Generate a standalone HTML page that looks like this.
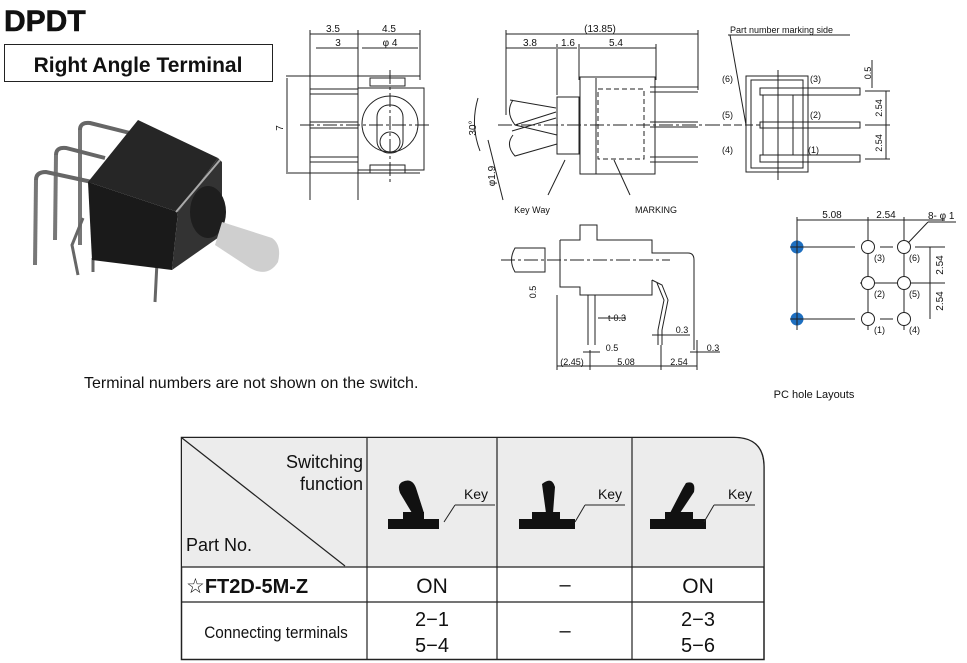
<!DOCTYPE html>
<html><head><meta charset="utf-8"><style>
html,body{margin:0;padding:0;background:#fff}
svg{display:block}
text{font-family:"Liberation Sans",sans-serif;fill:#111}
</style></head><body>
<svg width="967" height="663" viewBox="0 0 967 663" xmlns="http://www.w3.org/2000/svg">
<text x="4" y="31" font-size="30" font-weight="bold" stroke="#111" stroke-width="0.6">DPDT</text>
<rect x="4.5" y="44.5" width="268" height="37" fill="#fff" stroke="#222"/>
<text x="138" y="72" font-size="21" font-weight="bold" text-anchor="middle">Right Angle Terminal</text>

<!-- photo -->
<g>
<path d="M80 130 Q80 122 90 123 L130 133" stroke="#666" stroke-width="4" fill="none"/>
<path d="M80 130 L80 245" stroke="#777" stroke-width="4"/>
<path d="M56 155 Q56 147 66 148 L105 158" stroke="#666" stroke-width="4" fill="none"/>
<path d="M56 155 L55 240" stroke="#777" stroke-width="4"/>
<path d="M36 180 Q36 172 46 172 L92 182" stroke="#666" stroke-width="4" fill="none"/>
<path d="M36 180 L35 265" stroke="#777" stroke-width="4"/>
<path d="M83 218 L72 245 L78 275" stroke="#666" stroke-width="3" fill="none"/>
<path d="M93 258 L93 272 M157 262 L155 302" stroke="#666" stroke-width="3"/>
<polygon points="88,182 138,120 218,158 178,212" fill="#262626"/>
<polygon points="88,182 178,212 172,270 92,260" fill="#1a1a1a"/>
<polygon points="178,212 218,158 222,162 222,235 172,270" fill="#333"/>
<path d="M176 212 L220 160" stroke="#aaa" stroke-width="2"/>
<ellipse cx="208" cy="212" rx="18" ry="26" fill="#1e1e1e"/>
<path d="M222 222 L272 238 Q282 245 278 262 Q268 278 250 268 L215 245 Z" fill="#cfcfcf"/>
</g>
<text x="84" y="388" font-size="16">Terminal numbers are not shown on the switch.</text>

<!-- front view -->
<g stroke="#222" stroke-width="1" fill="none">
<path d="M310 30 L310 200 M358 30 L358 200 M420 30 L420 80"/>
<path d="M310 34 L358 34 M358 34 L420 34 M316 48 L358 48 M362 48 L418 48"/>
<path d="M286 76 L420 76 M286 173 L420 173 M287 78 L287 172"/>
<rect x="358" y="88" width="66" height="82"/>
<circle cx="390" cy="124" r="28"/>
<rect x="377" y="105" width="26" height="48" rx="12"/>
<circle cx="390" cy="142" r="10"/>
<path d="M310 89 L358 89 M310 94 L358 94 M310 122 L358 122 M310 128 L358 128 M310 157 L358 157 M310 162 L358 162"/>
<path d="M370 78 L405 78 L405 86 L370 86 Z M370 165 L405 165 L405 173 L370 173Z"/>
<path d="M390 70 L390 182 M300 125 L430 125" stroke-dasharray="14 3 3 3"/>
</g>
<text x="333" y="32" font-size="10" text-anchor="middle">3.5</text>
<text x="389" y="32" font-size="10" text-anchor="middle">4.5</text>
<text x="338" y="46" font-size="10" text-anchor="middle">3</text>
<text x="390" y="46" font-size="10" text-anchor="middle">φ 4</text>
<text x="283" y="128" font-size="10" transform="rotate(-90 283 128)" text-anchor="middle">7</text>

<!-- side view -->
<g stroke="#222" stroke-width="1" fill="none">
<path d="M506 34 L698 34 M506 48 L556 48 M558 48 L577 48 M580 48 L656 48"/>
<path d="M506 30 L506 115 M557 44 L557 95 M579 44 L579 80 M656 44 L656 80 M698 30 L698 90"/>
<rect x="557" y="97" width="22" height="57"/>
<rect x="580" y="77" width="75" height="97"/>
<path d="M596 78 L596 174"/>
<rect x="598" y="89" width="46" height="70" stroke-dasharray="5 3"/>
<path d="M650 87 L698 87 M650 92 L698 92 M650 122 L698 122 M650 127 L698 127 M650 157 L698 157 M650 162 L698 162"/>
<path d="M510 100 L556 108 M512 131 L556 118 M513 100 Q505 112 515 125 L557 135 M515 125 L556 112 M513 135 Q505 145 515 156 L557 144"/>
<path d="M498 125 L720 125" stroke-dasharray="14 3 3 3"/>
<path d="M478 98 Q470 125 480 151"/>
<path d="M488 140 L503 200 M565 160 L548 195 M614 160 L630 195"/>
</g>
<text x="600" y="32" font-size="10" text-anchor="middle">(13.85)</text>
<text x="530" y="46" font-size="10" text-anchor="middle">3.8</text>
<text x="568" y="46" font-size="10" text-anchor="middle">1.6</text>
<text x="616" y="46" font-size="10" text-anchor="middle">5.4</text>
<text x="476" y="128" font-size="10" transform="rotate(-90 476 128)" text-anchor="middle">30°</text>
<text x="495" y="176" font-size="10" transform="rotate(-90 495 176)" text-anchor="middle">φ1.9</text>
<text x="532" y="213" font-size="9" text-anchor="middle">Key Way</text>
<text x="656" y="213" font-size="9" text-anchor="middle">MARKING</text>

<!-- terminal side view -->
<text x="730" y="33" font-size="9">Part number marking side</text>
<g stroke="#222" stroke-width="1" fill="none">
<path d="M728 35 L850 35 M730 35 L746 125"/>
<rect x="746" y="76" width="62" height="96"/>
<rect x="751" y="80" width="52" height="88"/>
<path d="M760 88 L860 88 L860 95 L760 95 Z M760 122 L860 122 L860 128 L760 128 Z M760 155 L860 155 L860 162 L760 162 Z"/>
<path d="M763 95 L763 155 M793 95 L793 155 M778 70 L778 180"/>
<path d="M712 125 L760 125" stroke-dasharray="8 3"/>
<path d="M865 91 L890 91 M865 125 L890 125 M865 159 L890 159 M886 91 L886 159 M872 60 L872 88"/>
</g>
<text x="722" y="82" font-size="9">(6)</text>
<text x="722" y="118" font-size="9">(5)</text>
<text x="722" y="153" font-size="9">(4)</text>
<text x="810" y="82" font-size="9">(3)</text>
<text x="810" y="118" font-size="9">(2)</text>
<text x="808" y="153" font-size="9">(1)</text>
<text x="871" y="73" font-size="9" transform="rotate(-90 871 73)" text-anchor="middle">0.5</text>
<text x="882" y="108" font-size="9" transform="rotate(-90 882 108)" text-anchor="middle">2.54</text>
<text x="882" y="143" font-size="9" transform="rotate(-90 882 143)" text-anchor="middle">2.54</text>

<!-- bottom side view -->
<g stroke="#222" stroke-width="1" fill="none">
<path d="M560 240 L580 240 L580 225 L597 225 L597 240 L652 240 L652 253 L688 253 Q694 253 694 260 L694 350"/>
<path d="M560 240 L560 287 L580 287 L580 295 L652 295 L652 280"/>
<path d="M515 248 L545 248 L545 272 L515 272 Q508 260 515 248 Z"/>
<path d="M501 260 L670 260" stroke-dasharray="14 3 3 3"/>
<path d="M588 295 L588 345 M595 295 L595 345 M652 280 L662 285 L668 300 L662 330 L662 345 M657 283 L664 300 L658 330 L658 345"/>
<path d="M557 295 L557 370 M590 350 L590 370 M661 345 L661 370 M697 340 L697 370 M557 366 L697 366 M583 352 L600 352 M690 352 L720 352 M598 318 L626 318 M652 335 L690 335"/>
</g>
<text x="536" y="292" font-size="9" transform="rotate(-90 536 292)" text-anchor="middle">0.5</text>
<text x="608" y="321" font-size="9">t-0.3</text>
<text x="612" y="351" font-size="9" text-anchor="middle">0.5</text>
<text x="682" y="333" font-size="9" text-anchor="middle">0.3</text>
<text x="713" y="351" font-size="9" text-anchor="middle">0.3</text>
<text x="572" y="365" font-size="9" text-anchor="middle">(2.45)</text>
<text x="626" y="365" font-size="9" text-anchor="middle">5.08</text>
<text x="679" y="365" font-size="9" text-anchor="middle">2.54</text>

<!-- PC hole layout -->
<g stroke="#222" stroke-width="1" fill="none">
<path d="M797 220 L945 220 M797 217 L797 330 M868 217 L868 330 M904 217 L904 330"/>
<path d="M790 247 L855 247 M880 247 L893 247 M915 247 L945 247 M860 283 L945 283 M790 319 L855 319 M880 319 L893 319 M930 247 L930 319"/>
<circle cx="868" cy="247" r="6.5" fill="#fff"/><circle cx="904" cy="247" r="6.5" fill="#fff"/>
<circle cx="868" cy="283" r="6.5" fill="#fff"/><circle cx="904" cy="283" r="6.5" fill="#fff"/>
<circle cx="868" cy="319" r="6.5" fill="#fff"/><circle cx="904" cy="319" r="6.5" fill="#fff"/>
<path d="M928 222 L956 222 M928 222 L908 243"/>
</g>
<circle cx="797" cy="247" r="6.5" fill="#1e6fc0"/><circle cx="797" cy="319" r="6.5" fill="#1e6fc0"/>
<path d="M790 247 H804 M797 240 V254 M790 319 H804 M797 312 V326" stroke="#222"/>
<text x="832" y="218" font-size="10" text-anchor="middle">5.08</text>
<text x="886" y="218" font-size="10" text-anchor="middle">2.54</text>
<text x="928" y="219" font-size="10">8- φ 1</text>
<text x="874" y="261" font-size="9">(3)</text><text x="909" y="261" font-size="9">(6)</text>
<text x="874" y="297" font-size="9">(2)</text><text x="909" y="297" font-size="9">(5)</text>
<text x="874" y="333" font-size="9">(1)</text><text x="909" y="333" font-size="9">(4)</text>
<text x="943" y="265" font-size="10" transform="rotate(-90 943 265)" text-anchor="middle">2.54</text>
<text x="943" y="301" font-size="10" transform="rotate(-90 943 301)" text-anchor="middle">2.54</text>
<text x="814" y="398" font-size="11" text-anchor="middle">PC hole Layouts</text>

<!-- table -->
<path d="M181.5 437.5 H734 Q764 437.5 764 467 V659.5 H181.5 Z" fill="#fff" stroke="#222" stroke-width="1.5"/>
<path d="M182 438 H734 Q763.3 438 763.3 467 V567 H182 Z" fill="#ececec"/>
<g stroke="#222" stroke-width="1.2">
<line x1="181" y1="567" x2="764" y2="567"/><line x1="181" y1="602" x2="764" y2="602"/>
<line x1="367" y1="437" x2="367" y2="660"/><line x1="497" y1="437" x2="497" y2="660"/><line x1="632" y1="437" x2="632" y2="660"/>
<line x1="182" y1="438" x2="345" y2="566"/>
</g>
<text x="363" y="468" font-size="18" text-anchor="end">Switching</text>
<text x="363" y="490" font-size="18" text-anchor="end">function</text>
<text x="186" y="551" font-size="18">Part No.</text>
<g fill="#111">
<rect x="388" y="519" width="51" height="10"/><rect x="403" y="512" width="21" height="8"/>
<path d="M402 482 Q412 477 416 488 L424 513 L412 513 L400 493 Q397 485 402 482Z"/>
<rect x="519" y="519" width="56" height="10"/><rect x="532" y="512" width="28" height="8"/>
<path d="M542 484 Q552 476 555 487 L553 513 L546 513 Z"/>
<rect x="650" y="519" width="56" height="10"/><rect x="665" y="512" width="28" height="8"/>
<path d="M686 483 Q696 480 694 492 L680 513 L670 513 L683 488Z"/>
</g>
<g stroke="#222" fill="none">
<path d="M455 505 H495 M455 505 L444 522 M585 505 H625 M585 505 L575 522 M714 505 H755 M714 505 L704 522"/>
</g>
<text x="476" y="499" font-size="14" text-anchor="middle">Key</text>
<text x="610" y="499" font-size="14" text-anchor="middle">Key</text>
<text x="740" y="499" font-size="14" text-anchor="middle">Key</text>
<text x="186" y="593" font-size="21">☆<tspan font-weight="bold" font-size="20">FT2D-5M-Z</tspan></text>
<text x="432" y="593" font-size="21" text-anchor="middle">ON</text>
<text x="565" y="591" font-size="20" text-anchor="middle">–</text>
<text x="698" y="593" font-size="21" text-anchor="middle">ON</text>
<text x="276" y="638" font-size="17" text-anchor="middle" transform="translate(276 0) scale(0.9 1) translate(-276 0)">Connecting terminals</text>
<text x="432" y="626" font-size="20" text-anchor="middle">2−1</text>
<text x="432" y="652" font-size="20" text-anchor="middle">5−4</text>
<text x="565" y="637" font-size="20" text-anchor="middle">–</text>
<text x="698" y="626" font-size="20" text-anchor="middle">2−3</text>
<text x="698" y="652" font-size="20" text-anchor="middle">5−6</text>
</svg>
</body></html>
